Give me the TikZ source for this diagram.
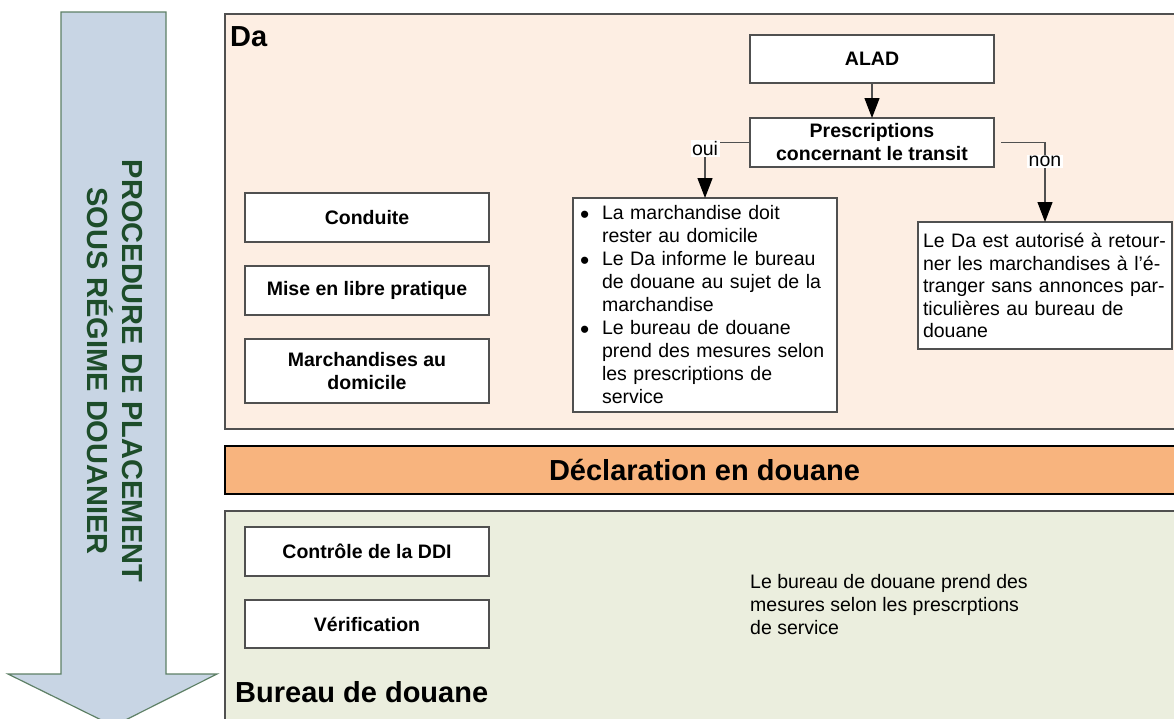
\documentclass[tikz,border=0pt]{standalone}
\usepackage{fontspec}
\usepackage{graphicx}
\setmainfont{Liberation Sans}
\usetikzlibrary{arrows.meta}
\definecolor{dafill}{HTML}{FDEEE3}
\definecolor{barfill}{HTML}{F8B47E}
\definecolor{bufill}{HTML}{EBEEDE}
\definecolor{arrfill}{HTML}{C8D5E4}
\definecolor{arrdraw}{HTML}{5E8066}
\definecolor{arrtext}{HTML}{1D4D2A}
\definecolor{boxdraw}{HTML}{505050}
\newcommand{\bul}{\makebox[22pt][l]{\raisebox{-0.3ex}{\scalebox{1.35}{\textbullet}}}}
\begin{document}
\begin{tikzpicture}[x=1pt,y=-1pt,
  container/.style={draw=#1, line width=1.3pt, anchor=north west, inner sep=0pt, outer sep=0pt},
  labbox/.style={draw=boxdraw, fill=white, line width=1.2pt, inner sep=0pt, outer sep=0pt,
    align=center, font=\bfseries\fontsize{19.5}{23}\selectfont},
  txtbox/.style={draw=boxdraw, fill=white, line width=1.2pt, outer sep=0pt, anchor=north west,
    align=left, font=\fontsize{19.5}{23}\selectfont},
  conn/.style={draw=boxdraw, line width=1.2pt, -{Triangle[length=20pt,width=15pt,fill=black,color=black]}},
  lbl/.style={fill=white, inner sep=1.5pt, font=\fontsize{19.5}{23}\selectfont},
  title/.style={font=\bfseries\fontsize{29}{35}\selectfont, inner sep=0pt}
]
\useasboundingbox (0,0) rectangle (1174,718);
% big arrow
\draw[fill=arrfill, draw=arrdraw, line width=1.2pt]
  (61,12) -- (166,12) -- (166,674) -- (217,674) -- (113.5,726) -- (8,674) -- (61,674) -- cycle;
\node[rotate=-90, align=center, text=arrtext, font=\bfseries\fontsize{29}{35}\selectfont] (proc) at (115,371)
  {PROCEDURE DE PLACEMENT\\SOUS RÉGIME DOUANIER};
% containers
\node[container=boxdraw, fill=dafill, minimum width=959pt, minimum height=415pt] (da) at (225,14) {};
\node[container=black, line width=1.8pt, fill=barfill, minimum width=959pt, minimum height=48pt,
  font=\bfseries\fontsize{29}{35}\selectfont] (decl) at (225,446) {Déclaration en douane};
\node[container=boxdraw, fill=bufill, minimum width=959pt, minimum height=220pt] (bu) at (225,511) {};
\node[title, anchor=base west] (datitle) at (230,46) {Da};
\node[title, anchor=base west] (butitle) at (235,702) {Bureau de douane};
% left boxes
\node[labbox, minimum width=244pt, minimum height=49pt] (cond) at (367,217.5) {Conduite};
\node[labbox, minimum width=244pt, minimum height=49pt] (mise) at (367,290.5) {Mise en libre pratique};
\node[labbox, minimum width=244pt, minimum height=64pt] (march) at (367,371) {Marchandises au\\domicile};
\node[labbox, minimum width=244pt, minimum height=49pt] (ctrl) at (367,551.5) {Contrôle de la DDI};
\node[labbox, minimum width=244pt, minimum height=48pt] (verif) at (367,624) {Vérification};
% flow
\node[labbox, minimum width=244pt, minimum height=48pt] (alad) at (872,59) {ALAD};
\node[labbox, minimum width=244pt, minimum height=49pt] (presc) at (872,142.5) {Prescriptions\\concernant le transit};
\node[txtbox, inner xsep=7pt, inner ysep=3pt, text width=250pt, minimum width=264pt, minimum height=214pt] (bul) at (573,198)
  {\bul La marchandise doit\\
   \hspace*{22pt}rester au domicile\\
   \bul Le Da informe le bureau\\
   \hspace*{22pt}de douane au sujet de la\\
   \hspace*{22pt}marchandise\\
   \bul Le bureau de douane\\
   \hspace*{22pt}prend des mesures selon\\
   \hspace*{22pt}les prescriptions de\\
   \hspace*{22pt}service};
\node[txtbox, inner xsep=5pt, inner ysep=3pt, text width=244pt, minimum width=254pt, minimum height=127pt,
  font=\fontsize{19.5}{22.5}\selectfont] (non) at (918,222)
  {Le Da est autorisé à retour-\\ner les marchandises à l’é-\\tranger sans annonces par-\\ticulières au bureau de\\douane};
\node[anchor=north west, align=left, inner sep=0pt, font=\fontsize{19.5}{23}\selectfont] (butext) at (750,574)
  {Le bureau de douane prend des\\mesures selon les prescrptions\\de service};
\draw[conn] (alad) -- (presc);
\draw[conn] (presc.west) -| node[lbl, yshift=-6pt] {oui} (bul.north);
\draw[conn] ([xshift=7pt]presc.east) -| node[lbl, yshift=-19pt] {non} (non.north);
\end{tikzpicture}
\end{document}
